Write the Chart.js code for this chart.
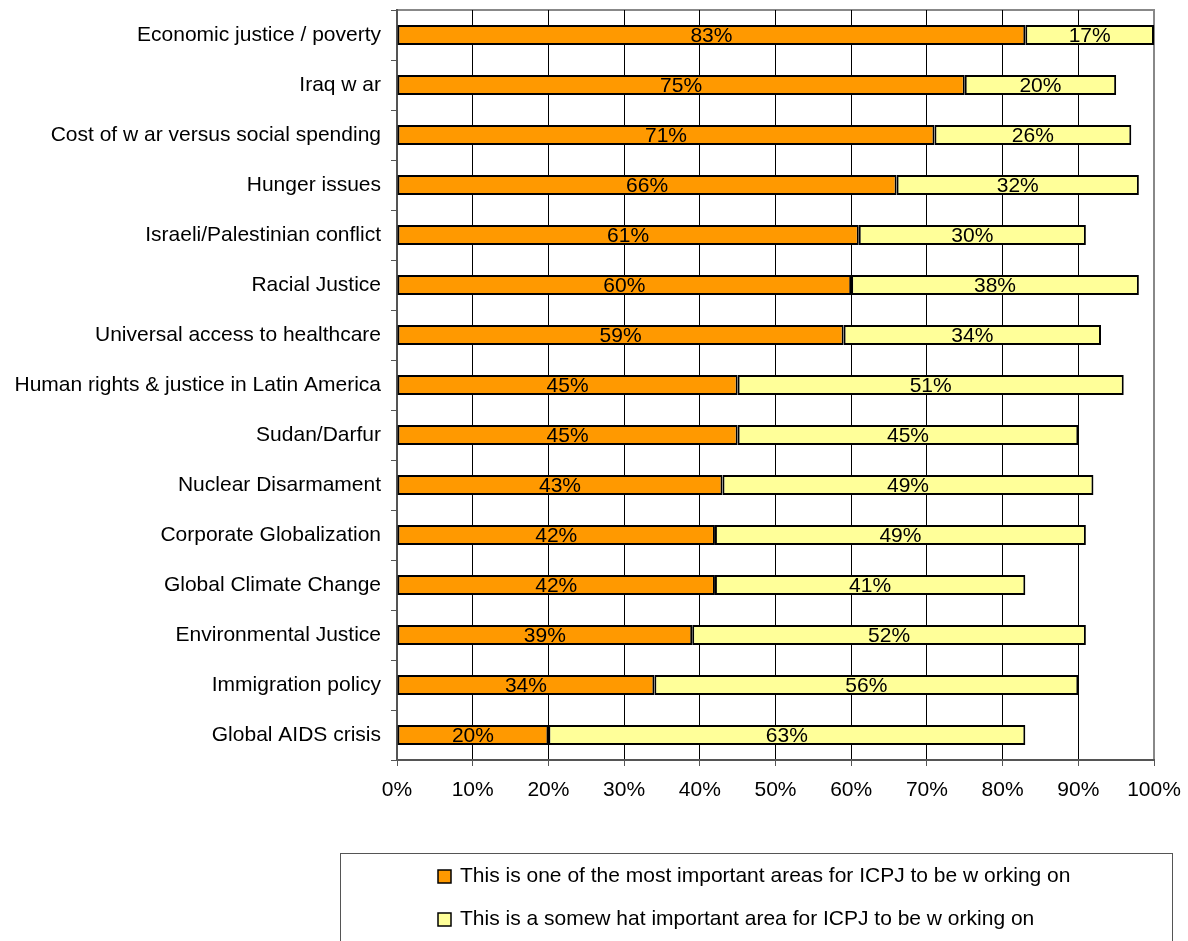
<!DOCTYPE html>
<html>
<head>
<meta charset="utf-8">
<script src="https://cdn.jsdelivr.net/npm/chart.js@4.4.0/dist/chart.umd.min.js"></script>
<style>
  html, body { margin: 0; padding: 0; background: #fff; }
  #wrap { width: 1188px; height: 941px; position: relative; }
</style>
</head>
<body>
<div id="wrap"><canvas id="issues-chart"></canvas></div>
<script>
const categories = [
    'Economic justice / poverty',
    'Iraq w ar',
    'Cost of w ar versus social spending',
    'Hunger issues',
    'Israeli/Palestinian conflict',
    'Racial Justice',
    'Universal access to healthcare',
    'Human rights & justice in Latin America',
    'Sudan/Darfur',
    'Nuclear Disarmament',
    'Corporate Globalization',
    'Global Climate Change',
    'Environmental Justice',
    'Immigration policy',
    'Global AIDS crisis'
];
const mostImportant = [83, 75, 71, 66, 61, 60, 59, 45, 45, 43, 42, 42, 39, 34, 20];
const somewhatImportant = [17, 20, 26, 32, 30, 38, 34, 51, 45, 49, 49, 41, 52, 56, 63];
const seriesNames = [
    'This is one of the most important areas for ICPJ to be w orking on',
    'This is a somew hat important area for ICPJ to be w orking on'
];
const xTicks = [0, 10, 20, 30, 40, 50, 60, 70, 80, 90, 100];

const FONT = "'Liberation Sans', Arial, Helvetica, sans-serif";
const FSIZE = 21;

// cadre gris du haut et de droite
const frame = {
    id: 'frame',
    beforeDraw(chart) {
        const { ctx, chartArea: a } = chart;
        ctx.save();
        ctx.strokeStyle = '#888';
        ctx.lineWidth = 2;
        ctx.beginPath();
        ctx.moveTo(a.left, a.top);
        ctx.lineTo(a.right, a.top);
        ctx.lineTo(a.right, a.bottom);
        ctx.stroke();
        ctx.restore();
    }
};

// valeurs au centre de chaque segment
const barLabels = {
    id: 'barLabels',
    afterDatasetsDraw(chart) {
        const ctx = chart.ctx;
        ctx.save();
        ctx.font = FSIZE + 'px ' + FONT;
        ctx.fillStyle = '#000';
        ctx.textAlign = 'center';
        ctx.textBaseline = 'middle';
        chart.data.datasets.forEach((ds, i) => {
            chart.getDatasetMeta(i).data.forEach((bar, j) => {
                const x = (bar.x + bar.base) / 2;
                ctx.fillText(ds.data[j] + '%', x, bar.y + 1);
            });
        });
        ctx.restore();
    }
};

// légende encadrée en bas
const boxLegend = {
    id: 'boxLegend',
    afterDraw(chart) {
        const ctx = chart.ctx;
        ctx.save();
        ctx.strokeStyle = '#555';
        ctx.lineWidth = 1;
        ctx.strokeRect(340.5, 853.5, 832, 100);
        ctx.font = FSIZE + 'px ' + FONT;
        ctx.textBaseline = 'middle';
        ctx.textAlign = 'left';
        chart.data.datasets.forEach((ds, i) => {
            const y = 876 + i * 43;
            ctx.fillStyle = ds.backgroundColor;
            ctx.fillRect(438, y - 6, 13, 13);
            ctx.strokeStyle = '#000';
            ctx.lineWidth = 1.5;
            ctx.strokeRect(438, y - 6, 13, 13);
            ctx.fillStyle = '#000';
            ctx.fillText(ds.label, 460, y);
        });
        ctx.restore();
    }
};

const issuesChart = new Chart(document.getElementById('issues-chart').getContext('2d'), {
    type: 'bar',
    data: {
        labels: categories,
        datasets: [{
            label: seriesNames[0],
            data: mostImportant,
            backgroundColor: '#FF9900',
            borderColor: '#000',
            borderWidth: 2,
            borderSkipped: false,
            barPercentage: 0.8,
            categoryPercentage: 0.5
        }, {
            label: seriesNames[1],
            data: somewhatImportant,
            backgroundColor: '#FFFF99',
            borderColor: '#000',
            borderWidth: 2,
            borderSkipped: false,
            barPercentage: 0.8,
            categoryPercentage: 0.5
        }]
    },
    options: {
        indexAxis: 'y',
        responsive: true,
        maintainAspectRatio: false,
        animation: false,
        layout: { padding: { top: 10, right: 34, left: 0, bottom: 0 } },
        plugins: { legend: { display: false }, tooltip: { enabled: false } },
        scales: {
            x: {
                stacked: true,
                min: 0,
                max: 100,
                afterBuildTicks: s => { s.ticks = xTicks.map(v => ({ value: v })); },
                afterFit: s => {
                    s.height = 181;
                    s.paddingLeft = 0;
                    s.paddingRight = 0;
                },
                ticks: {
                    callback: v => v + '%',
                    color: '#000',
                    font: { family: FONT, size: FSIZE },
                    padding: 12,
                    maxRotation: 0
                },
                grid: {
                    color: c => c.tick && c.tick.value === 100 ? '#888' : '#000',
                    lineWidth: 1,
                    tickLength: 6,
                    tickColor: '#555'
                },
                border: { color: '#555', width: 2 }
            },
            y: {
                stacked: true,
                afterFit: s => {
                    s.width = 397;
                    s.paddingTop = 0;
                    s.paddingBottom = 0;
                },
                ticks: {
                    color: '#000',
                    font: { family: FONT, size: FSIZE },
                    padding: 10
                },
                grid: {
                    drawOnChartArea: false,
                    tickLength: 6,
                    tickColor: '#555',
                    offset: true
                },
                border: { color: '#555', width: 2 }
            }
        }
    },
    plugins: [frame, barLabels, boxLegend]
});
</script>
</body>
</html>
